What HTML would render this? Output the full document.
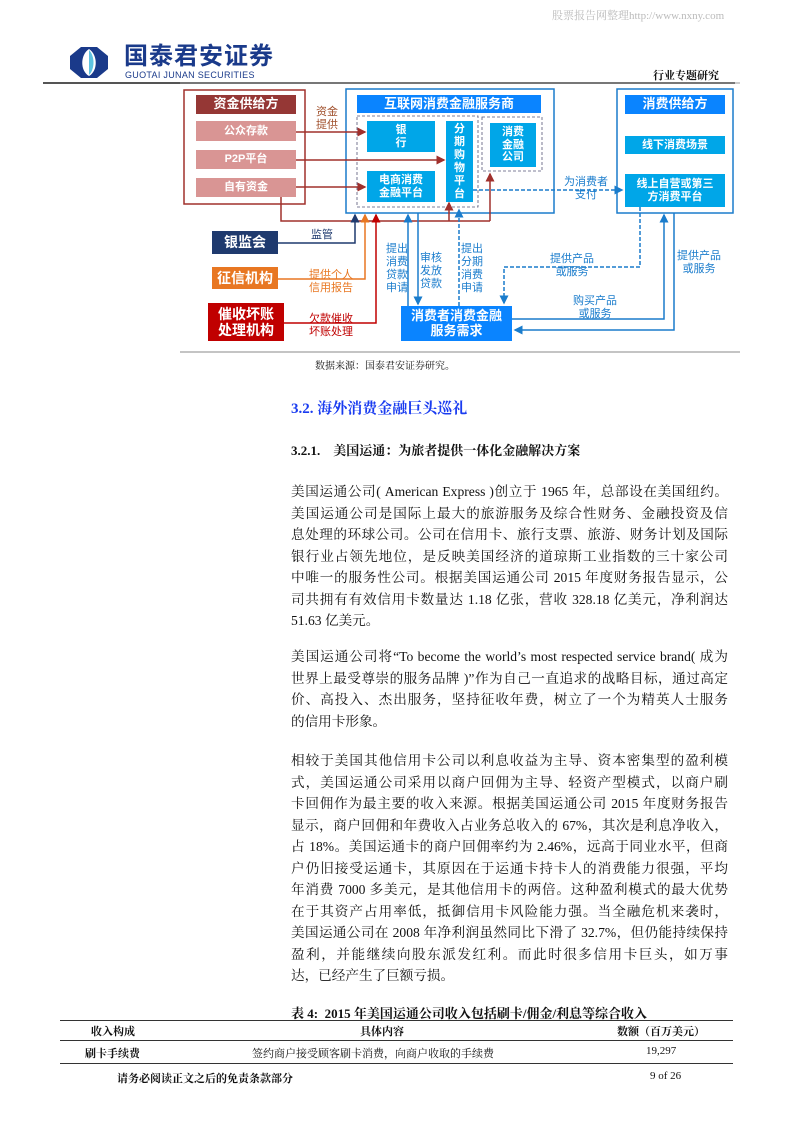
<!DOCTYPE html>
<html><head><meta charset="utf-8"><style>
body{margin:0;background:#fff;}
#p{position:relative;width:794px;height:1123px;overflow:hidden;font-family:"Liberation Serif","Noto Serif CJK SC",serif;color:#111;}
.a{position:absolute;}
.b{position:absolute;display:flex;align-items:center;justify-content:center;text-align:center;font-family:"Liberation Sans","Noto Sans CJK SC",sans-serif;font-weight:bold;color:#fff;line-height:1.15;}
.t{position:absolute;font-family:"Liberation Sans","Noto Sans CJK SC",sans-serif;font-size:11px;line-height:13px;text-align:center;}
.para{position:absolute;left:291px;width:437px;font-size:13.6px;}
.para div{height:21.5px;line-height:21.5px;text-align:justify;text-align-last:justify;white-space:nowrap;}
.para div.l{text-align-last:left;}
</style></head><body><div id="p">
<div class="a" style="left:552px;top:7px;font-size:11px;color:#bbb;">股票报告网整理http://www.nxny.com</div>
<svg class="a" style="left:68px;top:46px" width="42" height="33"><path d="M13 1 L29 1 L40 10 L40 23 L29 32 L13 32 L2 23 L2 10Z" fill="#1a3a8a"/><path d="M21 3 C12 9 12 25 21 30 C30 25 30 9 21 3Z" fill="#fff"/><path d="M21 4 C27 10 27 23 21 29Z" fill="#5ec3e0"/></svg>
<div class="a" style="left:124px;top:44px;font-family:'Liberation Sans','Noto Sans CJK SC',sans-serif;font-weight:bold;font-size:24px;line-height:26px;color:#1a3a8a;letter-spacing:1px">国泰君安证券</div>
<div class="a" style="left:125px;top:70px;font-family:'Liberation Sans',sans-serif;font-size:9px;line-height:10px;color:#1a3a8a;letter-spacing:0.3px">GUOTAI JUNAN SECURITIES</div>
<div class="a" style="left:653px;top:67px;font-size:11px;font-weight:bold;">行业专题研究</div>
<div class="a" style="left:43px;top:82px;height:2px;background:#555;width:692px"></div>

<svg class="a" style="left:0;top:0" width="794" height="360">
<defs>
<marker id="mr" markerWidth="6" markerHeight="6" refX="5" refY="3" orient="auto"><path d="M0,0 L6,3 L0,6Z" fill="#a0302c"/></marker>
<marker id="mb" markerWidth="6" markerHeight="6" refX="5" refY="3" orient="auto"><path d="M0,0 L6,3 L0,6Z" fill="#1a7ccc"/></marker>
<marker id="mn" markerWidth="6" markerHeight="6" refX="5" refY="3" orient="auto"><path d="M0,0 L6,3 L0,6Z" fill="#1f3a6e"/></marker>
<marker id="mo" markerWidth="6" markerHeight="6" refX="5" refY="3" orient="auto"><path d="M0,0 L6,3 L0,6Z" fill="#e87722"/></marker>
<marker id="md" markerWidth="6" markerHeight="6" refX="5" refY="3" orient="auto"><path d="M0,0 L6,3 L0,6Z" fill="#c00000"/></marker>
</defs>
<line x1="180" y1="83" x2="740" y2="83" stroke="#999" stroke-width="1"/>
<rect x="184" y="90" width="121" height="114" fill="none" stroke="#a0302c" stroke-width="1.5"/>
<rect x="346" y="89" width="208" height="124" fill="none" stroke="#1a7ccc" stroke-width="1.5"/>
<rect x="617" y="89" width="116" height="124" fill="none" stroke="#1a7ccc" stroke-width="1.5"/>
<rect x="357" y="116" width="121" height="91" fill="none" stroke="#557" stroke-width="0.8" stroke-dasharray="3,2"/>
<rect x="482" y="117" width="60" height="54" fill="none" stroke="#557" stroke-width="0.8" stroke-dasharray="3,2"/>
<g stroke="#a0302c" stroke-width="1.5" fill="none">
<line x1="296" y1="132" x2="365" y2="132" marker-end="url(#mr)"/>
<line x1="296" y1="160" x2="444" y2="160" marker-end="url(#mr)"/>
<line x1="296" y1="187" x2="365" y2="187" marker-end="url(#mr)"/>
<polyline points="281,197 281,221 490,221"/>
<line x1="449" y1="221" x2="449" y2="203" marker-end="url(#mr)"/>
<line x1="490" y1="221" x2="490" y2="174" marker-end="url(#mr)"/>
</g>
<polyline points="278,243 355,243 355,215" fill="none" stroke="#1f3a6e" stroke-width="1.5" marker-end="url(#mn)"/>
<polyline points="278,279 365,279 365,215" fill="none" stroke="#e87722" stroke-width="1.5" marker-end="url(#mo)"/>
<polyline points="284,323 376,323 376,215" fill="none" stroke="#c00000" stroke-width="1.5" marker-end="url(#md)"/>
<g stroke="#1a7ccc" stroke-width="1.5" fill="none">
<line x1="408" y1="306" x2="408" y2="215" marker-end="url(#mb)"/>
<line x1="418" y1="213" x2="418" y2="304" marker-end="url(#mb)"/>
<line x1="459" y1="306" x2="459" y2="210" stroke-dasharray="4,2" marker-end="url(#mb)"/>
<line x1="473" y1="190" x2="622" y2="190" stroke-dasharray="4,2" marker-end="url(#mb)"/>
<polyline points="640,207 640,267 504,267 504,303" stroke-dasharray="4,2" marker-end="url(#mb)"/>
<polyline points="512,319 664,319 664,215" marker-end="url(#mb)"/>
<polyline points="674,213 674,330 515,330" marker-end="url(#mb)"/>
</g>
<line x1="180" y1="352" x2="740" y2="352" stroke="#888" stroke-width="1"/>
</svg>

<div class="b" style="left:196px;top:95px;width:100px;height:19px;background:#953735;font-size:13px">资金供给方</div>
<div class="b" style="left:196px;top:121px;width:100px;height:20px;background:#d99594;font-size:11px">公众存款</div>
<div class="b" style="left:196px;top:150px;width:100px;height:19px;background:#d99594;font-size:11px">P2P平台</div>
<div class="b" style="left:196px;top:178px;width:100px;height:19px;background:#d99594;font-size:11px">自有资金</div>
<div class="b" style="left:357px;top:95px;width:184px;height:18px;background:#0a84ff;font-size:13px">互联网消费金融服务商</div>
<div class="b" style="left:367px;top:121px;width:68px;height:31px;background:#00a6e8;font-size:11px">银<br>行</div>
<div class="b" style="left:367px;top:171px;width:68px;height:31px;background:#00a6e8;font-size:11px">电商消费<br>金融平台</div>
<div class="b" style="left:446px;top:121px;width:27px;height:81px;background:#00a6e8;font-size:11px;line-height:13px">分<br>期<br>购<br>物<br>平<br>台</div>
<div class="b" style="left:490px;top:123px;width:46px;height:44px;background:#00a6e8;font-size:11px">消费<br>金融<br>公司</div>
<div class="b" style="left:625px;top:95px;width:100px;height:19px;background:#0a84ff;font-size:13px">消费供给方</div>
<div class="b" style="left:625px;top:136px;width:100px;height:18px;background:#00a6e8;font-size:11px">线下消费场景</div>
<div class="b" style="left:625px;top:174px;width:100px;height:33px;background:#00a6e8;font-size:11px">线上自营或第三<br>方消费平台</div>
<div class="b" style="left:212px;top:231px;width:66px;height:23px;background:#1f3a6e;font-size:14px">银监会</div>
<div class="b" style="left:212px;top:267px;width:66px;height:22px;background:#e87722;font-size:14px">征信机构</div>
<div class="b" style="left:208px;top:303px;width:76px;height:38px;background:#c00000;font-size:14px">催收坏账<br>处理机构</div>
<div class="b" style="left:401px;top:306px;width:111px;height:35px;background:#0a84ff;font-size:13px">消费者消费金融<br>服务需求</div>

<div class="t" style="left:310px;top:106px;width:34px;color:#a0502c">资金<br>提供</div>
<div class="t" style="left:305px;top:229px;width:34px;color:#1f3a6e">监管</div>
<div class="t" style="left:305px;top:269px;width:52px;color:#e87722">提供个人<br>信用报告</div>
<div class="t" style="left:305px;top:313px;width:52px;color:#c00000">欠款催收<br>坏账处理</div>
<div class="t" style="left:384px;top:243px;width:26px;color:#1a7ccc">提出<br>消费<br>贷款<br>申请</div>
<div class="t" style="left:418px;top:252px;width:26px;color:#1a7ccc">审核<br>发放<br>贷款</div>
<div class="t" style="left:459px;top:243px;width:26px;color:#1a7ccc">提出<br>分期<br>消费<br>申请</div>
<div class="t" style="left:558px;top:176px;width:56px;color:#1a7ccc">为消费者<br>支付</div>
<div class="t" style="left:544px;top:253px;width:56px;color:#1a7ccc">提供产品<br>或服务</div>
<div class="t" style="left:567px;top:295px;width:56px;color:#1a7ccc">购买产品<br>或服务</div>
<div class="t" style="left:671px;top:250px;width:56px;color:#1a7ccc">提供产品<br>或服务</div>

<div class="a" style="left:315px;top:357px;font-size:10px">数据来源：国泰君安证券研究。</div>
<div class="a" style="left:291px;top:397px;font-size:15px;font-weight:bold;color:#1a3cf0">3.2. 海外消费金融巨头巡礼</div>
<div class="a" style="left:291px;top:440px;font-size:13px;font-weight:bold">3.2.1.&nbsp;&nbsp;&nbsp;&nbsp;美国运通：为旅者提供一体化金融解决方案</div>

<div class="para" style="top:481px">
<div>美国运通公司( American Express )创立于 1965 年，总部设在美国纽约。</div>
<div>美国运通公司是国际上最大的旅游服务及综合性财务、金融投资及信</div>
<div>息处理的环球公司。公司在信用卡、旅行支票、旅游、财务计划及国际</div>
<div>银行业占领先地位，是反映美国经济的道琼斯工业指数的三十家公司</div>
<div>中唯一的服务性公司。根据美国运通公司 2015 年度财务报告显示，公</div>
<div>司共拥有有效信用卡数量达 1.18 亿张，营收 328.18 亿美元，净利润达</div>
<div class="l">51.63 亿美元。</div>
</div>
<div class="para" style="top:646px">
<div>美国运通公司将“To become the world’s most respected service brand( 成为</div>
<div>世界上最受尊崇的服务品牌 )”作为自己一直追求的战略目标，通过高定</div>
<div>价、高投入、杰出服务，坚持征收年费，树立了一个为精英人士服务</div>
<div class="l">的信用卡形象。</div>
</div>
<div class="para" style="top:750px">
<div>相较于美国其他信用卡公司以利息收益为主导、资本密集型的盈利模</div>
<div>式，美国运通公司采用以商户回佣为主导、轻资产型模式，以商户刷</div>
<div>卡回佣作为最主要的收入来源。根据美国运通公司 2015 年度财务报告</div>
<div>显示，商户回佣和年费收入占业务总收入的 67%，其次是利息净收入，</div>
<div>占 18%。美国运通卡的商户回佣率约为 2.46%，远高于同业水平，但商</div>
<div>户仍旧接受运通卡，其原因在于运通卡持卡人的消费能力很强，平均</div>
<div>年消费 7000 多美元，是其他信用卡的两倍。这种盈利模式的最大优势</div>
<div>在于其资产占用率低，抵御信用卡风险能力强。当全融危机来袭时，</div>
<div>美国运通公司在 2008 年净利润虽然同比下滑了 32.7%，但仍能持续保持</div>
<div>盈利，并能继续向股东派发红利。而此时很多信用卡巨头，如万事</div>
<div class="l">达，已经产生了巨额亏损。</div>
</div>

<div class="a" style="left:291px;top:1003px;font-size:13px;font-weight:bold">表 4:&nbsp; 2015 年美国运通公司收入包括刷卡/佣金/利息等综合收入</div>
<div class="a" style="left:60px;top:1020px;width:673px;height:1px;background:#333"></div>
<div class="a" style="left:91px;top:1023px;font-size:11px;font-weight:bold">收入构成</div>
<div class="a" style="left:360px;top:1023px;font-size:11px;font-weight:bold">具体内容</div>
<div class="a" style="left:617px;top:1023px;font-size:11px;font-weight:bold">数额（百万美元）</div>
<div class="a" style="left:60px;top:1040px;width:673px;height:1px;background:#333"></div>
<div class="a" style="left:85px;top:1045px;font-size:11px;font-weight:bold">刷卡手续费</div>
<div class="a" style="left:252px;top:1045px;font-size:11px">签约商户接受顾客刷卡消费，向商户收取的手续费</div>
<div class="a" style="left:646px;top:1045px;font-size:11px">19,297</div>
<div class="a" style="left:60px;top:1063px;width:673px;height:1px;background:#333"></div>
<div class="a" style="left:117px;top:1070px;font-size:11px;font-weight:bold">请务必阅读正文之后的免责条款部分</div>
<div class="a" style="left:650px;top:1070px;font-size:11px">9 of 26</div>
</div></body></html>
